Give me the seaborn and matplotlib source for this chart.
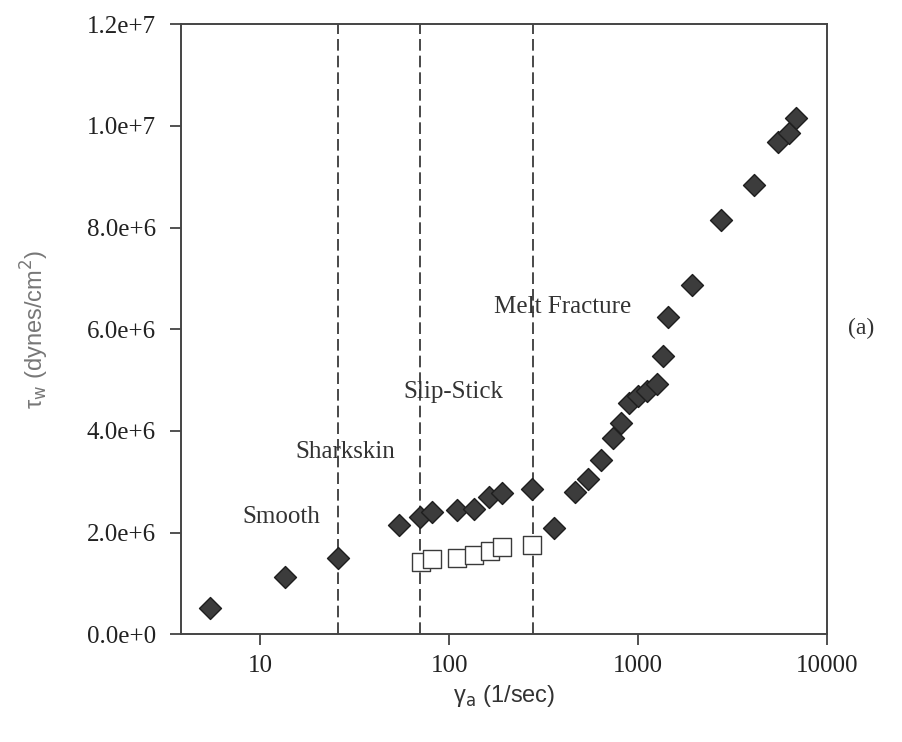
import matplotlib
matplotlib.use("Agg")
import matplotlib.pyplot as plt
from matplotlib.ticker import FixedLocator, FuncFormatter, NullLocator
import seaborn as sns

# shear rate (1/sec) and shear stress (dynes/cm^2)
rate_filled = [5.4, 13.5, 25.7, 54, 70, 81.5, 110, 136, 162, 191, 275,
               358, 467, 546, 635, 735, 813, 901, 1000, 1120, 1265,
               1362, 1443, 1928, 2750, 4140, 5510, 6350, 6890]
stress_filled = [0.52e6, 1.13e6, 1.51e6, 2.15e6, 2.30e6, 2.41e6, 2.45e6, 2.46e6, 2.70e6, 2.77e6, 2.85e6,
                 2.10e6, 2.79e6, 3.05e6, 3.43e6, 3.86e6, 4.15e6, 4.55e6, 4.69e6, 4.79e6, 4.92e6,
                 5.48e6, 6.24e6, 6.87e6, 8.15e6, 8.84e6, 9.69e6, 9.86e6, 10.15e6]

rate_open = [70.6, 81.5, 110, 136, 164, 191, 275]
stress_open = [1.43e6, 1.48e6, 1.51e6, 1.55e6, 1.64e6, 1.71e6, 1.76e6]

# regime boundaries
boundaries = [25.7, 70, 278]
region_labels = ["Smooth", "Sharkskin", "Slip-Stick", "Melt Fracture"]
region_pos = [(8.05, 2.31e6), (15.4, 3.59e6), (57.4, 4.77e6), (173, 6.44e6)]

x_ticks = [10, 100, 1000, 10000]
y_ticks = [0, 2e6, 4e6, 6e6, 8e6, 10e6, 12e6]

sns.set_style("ticks")
plt.rcParams['font.family'] = ['Liberation Serif', 'DejaVu Serif']

fig = plt.figure(figsize=(9.02, 7.42), dpi=100)
ax = fig.add_axes([0.2007, 0.1452, 0.7158, 0.8221])

for b in boundaries:
    ax.axvline(b, color='#2a2a2a', linestyle=(0, (7, 3)), linewidth=1.2, zorder=1)

sns.scatterplot(x=rate_filled, y=stress_filled, ax=ax, marker='D', s=125,
                color='#3c3c3c', edgecolor='#1e1e1e', linewidth=1.0, zorder=3)
sns.scatterplot(x=rate_open, y=stress_open, ax=ax, marker='s', s=150,
                facecolor='white', edgecolor='#3a3a3a', linewidth=1.0, zorder=3)

ax.set_xscale('log')
ax.set_xlim(3.8, 10000)
ax.set_ylim(0, 1.2e7)

ax.xaxis.set_major_locator(FixedLocator(x_ticks))
ax.xaxis.set_minor_locator(NullLocator())
ax.xaxis.set_major_formatter(FuncFormatter(lambda v, p: f'{v:.0f}'))
ax.yaxis.set_major_locator(FixedLocator(y_ticks))


def sci_fmt(v, p):
    if v == 0:
        return '0.0e+0'
    exp = len(str(int(v))) - 1
    return f'{v / 10 ** exp:.1f}e+{exp}'


ax.yaxis.set_major_formatter(FuncFormatter(sci_fmt))
ax.tick_params(axis='both', direction='out', length=8, width=1.2, colors='#333333',
               labelsize=18, labelcolor='#222222')
ax.tick_params(axis='x', pad=7)
ax.tick_params(axis='y', pad=10)

for side in ['left', 'right', 'top', 'bottom']:
    ax.spines[side].set_visible(True)
    ax.spines[side].set_color('#444444')
    ax.spines[side].set_linewidth(1.4)

for label, (xp, yp) in zip(region_labels, region_pos):
    ax.text(xp, yp, label, fontsize=18, color='#333333', ha='left', va='center')

fig.text(0.955, 0.558, '(a)', fontsize=17, color='#333333', ha='center', va='center')

ax.set_xlabel('γ$_{\\mathrm{a}}$ (1/sec)', fontsize=17, color='#333333', labelpad=4,
              family=['Liberation Sans Narrow', 'Liberation Sans', 'DejaVu Sans'])
ax.set_ylabel('τ$_{\\mathrm{w}}$ (dynes/cm$^{2}$)', fontsize=17, color='#777777', labelpad=26,
              family=['Liberation Sans Narrow', 'Liberation Sans', 'DejaVu Sans'])

plt.savefig('out.png', dpi=100)
plt.close()
